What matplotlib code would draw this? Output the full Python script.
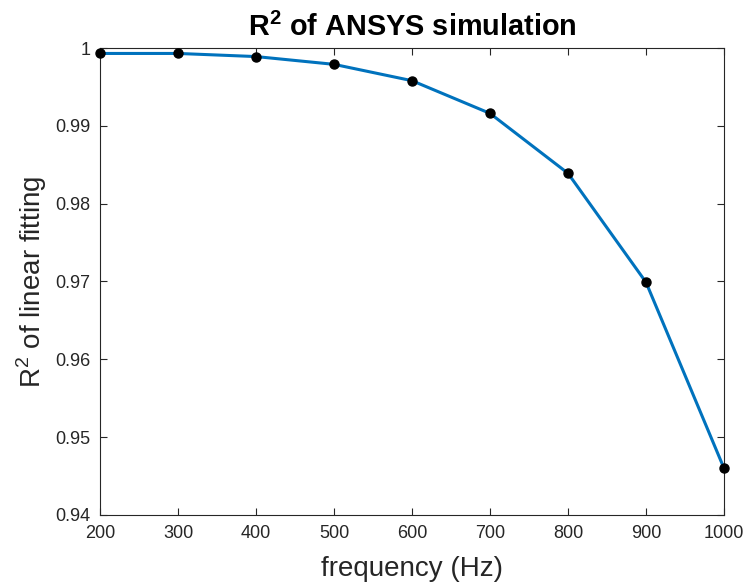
import matplotlib
matplotlib.use('Agg')
import matplotlib.pyplot as plt

# frequency sweep and R^2 values
freq = [200, 300, 400, 500, 600, 700, 800, 900, 1000]
r2 = [0.9993, 0.9993, 0.9989, 0.9979, 0.9958, 0.9916, 0.9839, 0.9699, 0.9460]

xticks = [200, 300, 400, 500, 600, 700, 800, 900, 1000]
yticks = [0.94, 0.95, 0.96, 0.97, 0.98, 0.99, 1.0]
ytick_labels = ['0.94', '0.95', '0.96', '0.97', '0.98', '0.99', '1']

plt.rcParams['font.family'] = ['Liberation Sans', 'DejaVu Sans']
plt.rcParams['mathtext.fontset'] = 'custom'
plt.rcParams['mathtext.rm'] = 'Liberation Sans'
plt.rcParams['mathtext.bf'] = 'Liberation Sans:bold'

fig = plt.figure(figsize=(7.47, 5.84), dpi=100)
ax = fig.add_axes([0.1339, 0.1182, 0.8353, 0.7996])

ax.plot(freq, r2, color='#0072BD', linewidth=2.2, marker='o',
        markersize=6.5, markerfacecolor='black', markeredgecolor='black',
        zorder=3, clip_on=False)

ax.set_xlim(200, 1000)
ax.set_ylim(0.94, 1.0)
ax.set_xticks(xticks)
ax.set_yticks(yticks)
ax.set_yticklabels(ytick_labels)

ax.tick_params(direction='in', top=True, right=True, length=5,
               width=0.8, colors='#262626', labelsize=13)
ax.tick_params(axis='x', pad=7.5)
ax.tick_params(axis='y', pad=7)
for s in ax.spines.values():
    s.set_color('#262626')
    s.set_linewidth(0.8)

ax.set_xlabel('frequency (Hz)', fontsize=20, color='#262626', labelpad=10)
ax.set_ylabel('R$^2$ of linear fitting', fontsize=20, color='#262626', labelpad=4)
ax.set_title(r'R$^\mathbf{2}$ of ANSYS simulation', fontsize=20.8,
             fontweight='bold', color='black', pad=9)

fig.savefig('out.png', dpi=100)
